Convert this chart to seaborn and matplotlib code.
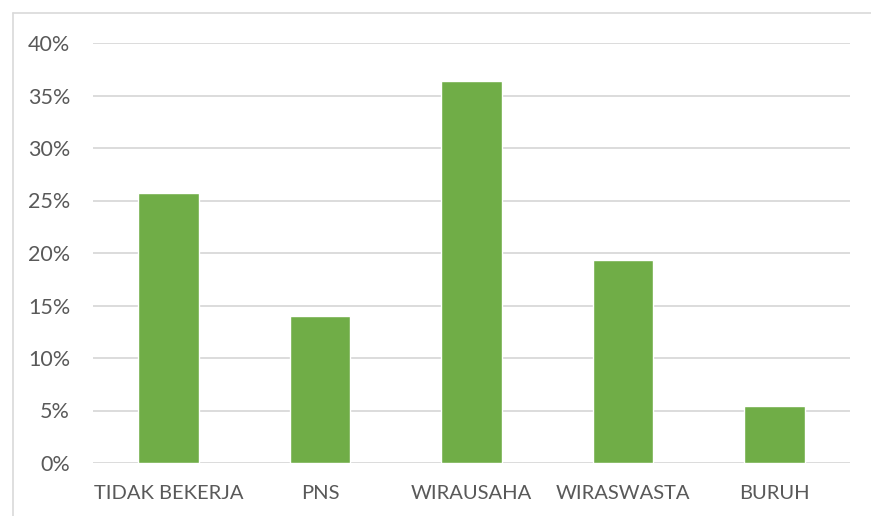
import matplotlib
matplotlib.use("Agg")
import matplotlib.pyplot as plt
import seaborn as sns
import pandas as pd
from matplotlib.lines import Line2D

categories = ["TIDAK BEKERJA", "PNS", "WIRAUSAHA", "WIRASWASTA", "BURUH"]
values = [25.7, 14.0, 36.4, 19.3, 5.4]
yticks = [0, 5, 10, 15, 20, 25, 30, 35, 40]
ytick_labels = [f"{t}%" for t in yticks]

df = pd.DataFrame({"cat": categories, "val": values})

sns.set_theme(style="white")
plt.rcParams['font.family'] = ['Lato', 'DejaVu Sans']

W, H = 871, 516
fig = plt.figure(figsize=(W / 100, H / 100), dpi=100)
ax = fig.add_axes([93 / W, 1 - 463 / H, (850 - 93) / W, (463 - 43) / H])

sns.barplot(data=df, x="cat", y="val", color="#70AD47", width=0.40,
            saturation=1, ax=ax, zorder=3)

ax.set_ylim(0, 40)
ax.set_xlim(-0.5, len(categories) - 0.5)
ax.set_yticks(yticks)
ax.set_yticklabels(ytick_labels)
ax.yaxis.grid(True, color="#D9D9D9", linewidth=1.3, zorder=0)
ax.set_axisbelow(True)
for s in ax.spines.values():
    s.set_visible(False)
ax.tick_params(axis="x", length=0, labelsize=14.5, colors="#595959", pad=16)
ax.tick_params(axis="y", length=0, labelsize=15.5, colors="#595959", pad=16.5)
ax.set_xlabel("")
ax.set_ylabel("")

# outer chart frame (partially visible)
fig.add_artist(Line2D([12.5 / W, 12.5 / W], [0, 1 - 13 / H], transform=fig.transFigure,
                      color="#D9D9D9", linewidth=1.2))
fig.add_artist(Line2D([12.5 / W, 1], [1 - 13 / H, 1 - 13 / H], transform=fig.transFigure,
                      color="#D9D9D9", linewidth=1.2))

fig.savefig("out.png", dpi=100)
